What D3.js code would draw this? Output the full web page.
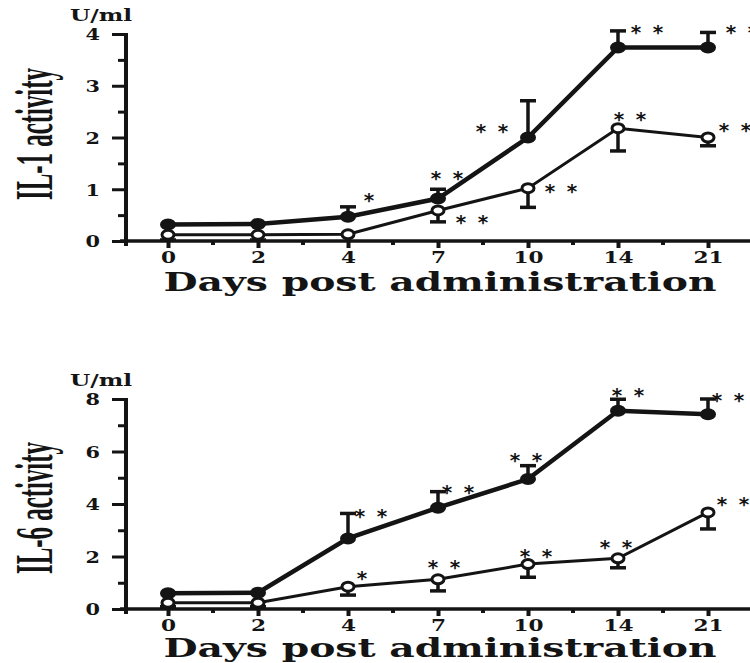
<!DOCTYPE html>
<html>
<head>
<meta charset="utf-8">
<script src="https://cdn.jsdelivr.net/npm/d3@7"></script>
<style>
  body { margin: 0; background: #fff; }
  svg { display: block; }
</style>
</head>
<body>
<div id="chart"></div>
<script>
// ---------------- data
const days = ["0", "2", "4", "7", "10", "14", "21"]

// IL-1 (U/ml)
const il1Filled = [0.32, 0.33, 0.47, 0.82, 2.0, 3.74, 3.74]
const il1FilledErr = [0, 0, 0.19, 0.18, 0.71, 0.32, 0.29]
const il1Open = [0.12, 0.12, 0.13, 0.59, 1.02, 2.18, 2.0]
const il1OpenErr = [0.1, 0.1, 0, 0.22, 0.37, 0.44, 0.16]
const il1FilledSig = ["", "", "*", "**", "**", "**", "**"]
const il1OpenSig = ["", "", "", "**", "**", "**", "**"]
const il1Ticks = [0, 1, 2, 3, 4]

// IL-6 (U/ml)
const il6Filled = [0.6, 0.62, 2.69, 3.86, 4.95, 7.55, 7.42]
const il6FilledErr = [0, 0, 0.95, 0.61, 0.51, 0.44, 0.58]
const il6Open = [0.24, 0.24, 0.85, 1.13, 1.71, 1.93, 3.68]
const il6OpenErr = [0.15, 0.15, 0.32, 0.44, 0.5, 0.36, 0.63]
const il6FilledSig = ["", "", "**", "**", "**", "**", "**"]
const il6OpenSig = ["", "", "*", "**", "**", "**", "**"]
const il6Ticks = [0, 2, 4, 6, 8]

const xTitle = "Days post administration"
const unitLabel = "U/ml"

// ---------------- page
const width = 750
const height = 663
const ink = "#141414"
const serif = "'DejaVu Serif', serif"

const svg = d3.select("#chart").append("svg")
    .attr("width", width)
    .attr("height", height)
    .attr("viewBox", `0 0 ${width} ${height}`)

// the scan is stretched sideways, so text gets widened after it is laid out
function widen(sel, k) {
    sel.each(function () {
        const w = this.getComputedTextLength()
        d3.select(this).attr("textLength", w * k).attr("lengthAdjust", "spacingAndGlyphs")
    })
}

const x = d3.scalePoint().domain(days).range([168, 708])
const axisX = 126

function drawPanel(p) {
    const y = d3.scaleLinear().domain([0, p.max]).range([p.bottom, p.top])
    const g = svg.append("g")

    //-------- y axis (major + minor ticks)
    const minor = d3.range(0, p.max + 1e-9, p.minorStep).filter(v => !p.ticks.includes(v))
    g.append("g")
        .attr("transform", `translate(${axisX},0)`)
        .call(d3.axisLeft(y).tickValues(minor).tickSize(8).tickFormat("").tickSizeOuter(0))
        .call(a => a.select(".domain").remove())
        .call(a => a.selectAll("line").attr("stroke", ink).attr("stroke-width", 3))

    const yAx = g.append("g")
        .attr("transform", `translate(${axisX},0)`)
        .call(d3.axisLeft(y).tickValues(p.ticks).tickFormat(d3.format("d"))
            .tickSize(14).tickPadding(12).tickSizeOuter(0))
    yAx.select(".domain").remove()
    yAx.selectAll("line").attr("stroke", ink).attr("stroke-width", 3)
    yAx.selectAll("text")
        .attr("fill", ink)
        .attr("font-family", serif)
        .attr("font-weight", "bold")
        .attr("font-size", 16)
        .attr("dy", "0.36em")
        .call(widen, 1.3)

    g.append("line")
        .attr("x1", axisX).attr("x2", axisX)
        .attr("y1", y(p.max) - 1).attr("y2", p.bottom + 5)
        .attr("stroke", ink).attr("stroke-width", 4)

    //-------- x axis
    g.append("line")
        .attr("x1", axisX - 6).attr("x2", width)
        .attr("y1", p.bottom).attr("y2", p.bottom)
        .attr("stroke", ink).attr("stroke-width", 3.5)

    const mids = d3.range(days.length - 1).map(i => (x(days[i]) + x(days[i + 1])) / 2)
    g.selectAll(".xminor").data(mids).join("line")
        .attr("x1", d => d).attr("x2", d => d)
        .attr("y1", p.bottom).attr("y2", p.bottom + 4)
        .attr("stroke", ink).attr("stroke-width", 4)

    const xAx = g.append("g")
        .attr("transform", `translate(0,${p.bottom})`)
        .call(d3.axisBottom(x).tickSize(7).tickPadding(4).tickSizeOuter(0))
    xAx.select(".domain").remove()
    xAx.selectAll("line").attr("stroke", ink).attr("stroke-width", 4)
    xAx.selectAll("text")
        .attr("fill", ink)
        .attr("font-family", serif)
        .attr("font-weight", "bold")
        .attr("font-size", 16)
        .call(widen, 1.35)

    g.append("text")
        .attr("x", 440).attr("y", p.bottom + p.titleGap)
        .attr("text-anchor", "middle")
        .attr("fill", ink)
        .attr("font-family", serif)
        .attr("font-weight", "bold")
        .attr("font-size", 26)
        .text(xTitle)
        .attr("textLength", 553)
        .attr("lengthAdjust", "spacingAndGlyphs")

    g.append("text")
        .attr("x", 70).attr("y", p.top - 13)
        .attr("fill", ink)
        .attr("font-family", serif)
        .attr("font-weight", "bold")
        .attr("font-size", 16)
        .text(unitLabel)
        .call(widen, 1.45)

    g.append("text")
        .attr("transform", `translate(52,${p.labelY}) rotate(-90)`)
        .attr("text-anchor", "middle")
        .attr("fill", ink)
        .attr("font-family", "'Liberation Serif', serif")
        .attr("font-weight", "bold")
        .attr("font-size", 52)
        .text(p.label)
        .attr("textLength", 132)
        .attr("lengthAdjust", "spacingAndGlyphs")

    //-------- series
    const line = d3.line().x((d, i) => x(days[i])).y(d => y(d))

    // error bars: filled go up, open go down
    const bars = [
        { vals: p.filled, err: p.filledErr, dir: 1 },
        { vals: p.open, err: p.openErr, dir: -1 }
    ]
    bars.forEach(s => {
        const rows = s.vals.map((v, i) => ({ i, v, e: v + s.dir * s.err[i] })).filter(d => s.err[d.i] > 0)
        g.selectAll(null).data(rows).join("line")
            .attr("x1", d => x(days[d.i])).attr("x2", d => x(days[d.i]))
            .attr("y1", d => y(d.v)).attr("y2", d => y(d.e))
            .attr("stroke", ink).attr("stroke-width", 3.5)
        g.selectAll(null).data(rows).join("line")
            .attr("x1", d => x(days[d.i]) - 8).attr("x2", d => x(days[d.i]) + 8)
            .attr("y1", d => y(d.e)).attr("y2", d => y(d.e))
            .attr("stroke", ink).attr("stroke-width", 3.5)
    })

    g.append("path")
        .attr("d", line(p.open))
        .attr("fill", "none").attr("stroke", ink).attr("stroke-width", 3)
    g.append("path")
        .attr("d", line(p.filled))
        .attr("fill", "none").attr("stroke", ink).attr("stroke-width", 4.5)

    g.selectAll(null).data(p.open).join("ellipse")
        .attr("cx", (d, i) => x(days[i])).attr("cy", d => y(d))
        .attr("rx", 6).attr("ry", 4.5)
        .attr("fill", "#fff").attr("stroke", ink).attr("stroke-width", 3)
    g.selectAll(null).data(p.filled).join("ellipse")
        .attr("cx", (d, i) => x(days[i])).attr("cy", d => y(d))
        .attr("rx", 8).attr("ry", 6)
        .attr("fill", ink)

    //-------- significance marks
    const sig = (marks, vals, offs) => marks.forEach((m, i) => {
        if (!m) return
        const cx = x(days[i]) + offs[i][0]
        const cy = y(vals[i]) + offs[i][1]
        m.split("").forEach((c, j) => {
            g.append("text")
                .attr("x", cx + (j - (m.length - 1) / 2) * 22)
                .attr("y", cy + 11)
                .attr("text-anchor", "middle")
                .attr("fill", ink)
                .attr("font-family", "'DejaVu Sans', sans-serif")
                .attr("font-weight", "bold")
                .attr("font-size", 20)
                .text(c)
        })
    })
    sig(p.filledSig, p.filled, p.filledOff)
    sig(p.openSig, p.open, p.openOff)
}

drawPanel({
    top: 34, bottom: 241, max: 4, minorStep: 0.5, ticks: il1Ticks, labelY: 134, titleGap: 50,
    label: "IL-1 activity",
    filled: il1Filled, filledErr: il1FilledErr, open: il1Open, openErr: il1OpenErr,
    filledSig: il1FilledSig, openSig: il1OpenSig,
    filledOff: [null, null, [21, -21], [9, -25], [-36, -11], [29, -19], [34, -19]],
    openOff: [null, null, null, [34, 8], [33, -1], [12, -13], [27, -12]]
})

drawPanel({
    top: 399, bottom: 609, max: 8, minorStep: 1, ticks: il6Ticks, labelY: 508, titleGap: 48,
    label: "IL-6 activity",
    filled: il6Filled, filledErr: il6FilledErr, open: il6Open, openErr: il6OpenErr,
    filledSig: il6FilledSig, openSig: il6OpenSig,
    filledOff: [null, null, [23, -26], [20, -20], [-2, -23], [10, -20], [20, -18]],
    openOff: [null, null, [14, -13], [6, -16], [8, -12], [-2, -15], [25, -12]]
})
</script>
</body>
</html>
